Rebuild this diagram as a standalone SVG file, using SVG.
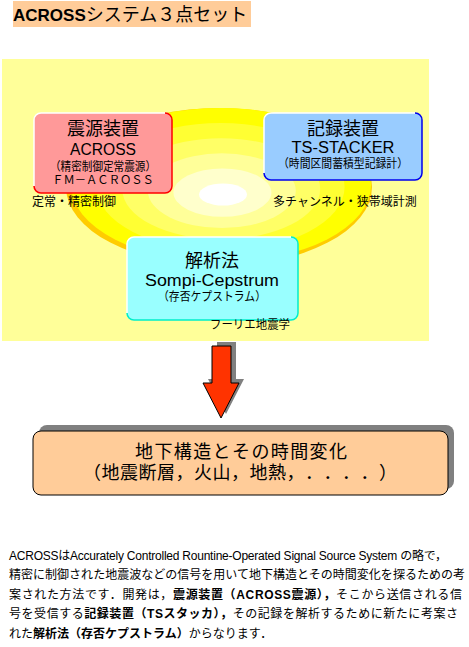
<svg xmlns="http://www.w3.org/2000/svg" width="469" height="647" viewBox="0 0 469 647">
<style>
text{font-family:"Liberation Sans","Noto Sans CJK JP",sans-serif;fill:#000}
.c{text-anchor:middle}
.s12{font-size:12px}
.b{font-weight:bold}
.hl{fill:none;stroke:#ffffff;stroke-width:1.5}
</style>
<rect width="469" height="647" fill="#ffffff"/>
<!-- title -->
<g id="title">
<rect x="13" y="1" width="238" height="26" fill="#FFCC99"/>
<text x="13" y="21" font-size="17"><tspan font-weight="bold">ACROSS</tspan><tspan font-size="18">システム３点セット</tspan></text>
</g>
<!-- background -->
<g id="background">
<rect x="2" y="59" width="427" height="282" fill="#FFFF99"/>
<ellipse cx="219" cy="187" rx="153" ry="79" fill="#FFCC00"/>
<ellipse cx="221" cy="185" rx="150" ry="77" fill="#FFFF00"/>
<ellipse cx="220.6" cy="186.9" rx="124" ry="63.8" fill="#FFFF33"/>
<ellipse cx="221.2" cy="188.8" rx="99" ry="50.6" fill="#FFFF66"/>
<ellipse cx="221.8" cy="190.7" rx="74" ry="37.4" fill="#FFFF99"/>
<ellipse cx="222.4" cy="192.6" rx="49" ry="24.2" fill="#FFFFCC"/>
<ellipse cx="223" cy="194.5" rx="24" ry="11" fill="#FFFFFF"/>
</g>
<!-- connectors -->
<g id="connectors">
<polygon points="217,342 236,342 236,379 244,379 226,414 208,379 217,379" fill="#808080"/>
<polygon points="212,346 231,346 231,383 239,383 221,418 203,383 212,383" fill="#FF3300" stroke="#000" stroke-width="1"/>
</g>
<!-- source node -->
<g id="source">
<rect x="34" y="113" width="138" height="80" rx="7" fill="#FF9999"/>
<path d="M41,113 H165 M34,186 V120 A7 7 0 0 1 41,113" class="hl"/>
<path d="M165,113 A7 7 0 0 1 172,120 V186 A7 7 0 0 1 165,193 H41 A7 7 0 0 1 34,186" fill="none" stroke="#FF0000" stroke-width="1.5"/>
<text x="103" y="135" class="c" font-size="18">震源装置</text>
<text x="103" y="155" class="c" font-size="16" textLength="66" lengthAdjust="spacingAndGlyphs">ACROSS</text>
<text x="103" y="171" class="c s12" textLength="106" lengthAdjust="spacingAndGlyphs">（精密制御定常震源）</text>
<text x="103" y="184" class="c" font-size="11.3">ＦＭ－ＡＣＲＯＳＳ</text>
<text x="32" y="206" class="s12">定常・精密制御</text>
</g>
<!-- recorder node -->
<g id="recorder">
<rect x="264" y="113" width="158" height="67" rx="7" fill="#99CCFF"/>
<path d="M271,113 H415 M264,173 V120 A7 7 0 0 1 271,113" class="hl"/>
<path d="M415,113 A7 7 0 0 1 422,120 V173 A7 7 0 0 1 415,180 H271 A7 7 0 0 1 264,173" fill="none" stroke="#0000EE" stroke-width="1.5"/>
<text x="343" y="135" class="c" font-size="18">記録装置</text>
<text x="343" y="153" class="c" font-size="16" textLength="103" lengthAdjust="spacingAndGlyphs">TS-STACKER</text>
<text x="343" y="168" class="c s12" textLength="130" lengthAdjust="spacingAndGlyphs">（時間区間蓄積型記録計）</text>
<text x="273" y="206" class="s12">多チャンネル・狭帯域計測</text>
</g>
<!-- analysis node -->
<g id="analysis">
<rect x="127" y="237" width="171" height="83" rx="7" fill="#99FFFF"/>
<path d="M134,237 H291 M127,313 V244 A7 7 0 0 1 134,237" class="hl"/>
<path d="M291,237 A7 7 0 0 1 298,244 V313 A7 7 0 0 1 291,320 H134 A7 7 0 0 1 127,313" fill="none" stroke="#00EECC" stroke-width="1.5"/>
<text x="212" y="267" class="c" font-size="18">解析法</text>
<text x="212" y="286" class="c" font-size="16" textLength="134" lengthAdjust="spacingAndGlyphs">Sompi-Cepstrum</text>
<text x="212" y="301" class="c s12" textLength="108" lengthAdjust="spacingAndGlyphs">（存否ケプストラム）</text>
<text x="210" y="329" class="s12" textLength="80" lengthAdjust="spacingAndGlyphs">フーリエ地震学</text>
</g>
<!-- result node -->
<g id="result">
<rect x="39" y="425" width="415" height="64" rx="8" fill="#808080"/>
<rect x="33" y="431" width="415" height="64" rx="8" fill="#FFCC99" stroke="#000" stroke-width="1"/>
<text y="458" font-size="18" x="135 154.4 173.8 193.2 212.6 232 251.4 270.8 290.2 309.6 329">地下構造とその時間変化</text>
<text y="479" font-size="18" x="83 101.5 120 138.5 157 175.5 194 212.5 231 249.5 268 286.5 305 323.5 342 360.5 379">（地震断層，火山，地熱，．．．．）</text>
</g>
<!-- description -->
<g id="description">
<text x="9" y="560" class="s12" textLength="438">ACROSSはAccurately Controlled Rountine-Operated Signal Source System の略で，</text>
<text x="9" y="579" class="s12" textLength="456">精密に制御された地震波などの信号を用いて地下構造とその時間変化を探るための考</text>
<text x="9" y="599" class="s12" textLength="453">案された方法です．開発は，<tspan class="b">震源装置（ACROSS震源），</tspan>そこから送信される信</text>
<text x="9" y="618" class="s12" textLength="449">号を受信する<tspan class="b">記録装置（TSスタッカ），</tspan>その記録を解析するために新たに考案さ</text>
<text x="9" y="638" class="s12">れた<tspan class="b">解析法（存否ケプストラム）</tspan>からなります．</text>
</g>
</svg>
